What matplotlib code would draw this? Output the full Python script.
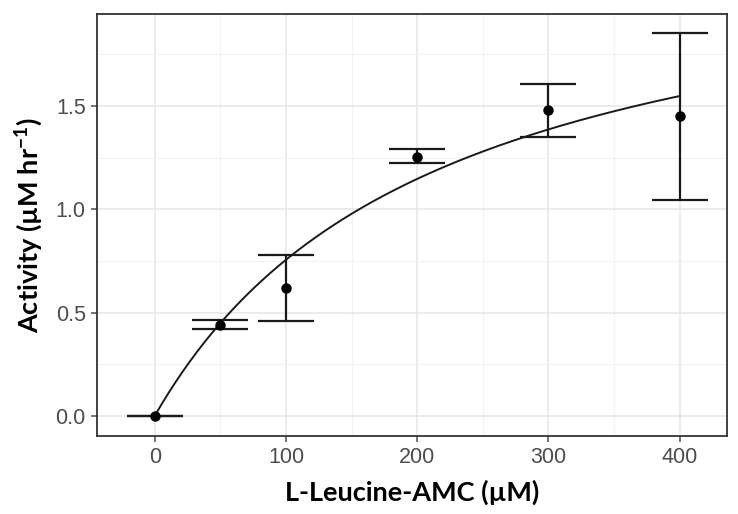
import numpy as np
import matplotlib.pyplot as plt

# Substrate concentrations and measured activity
substrate = [0, 50, 100, 200, 300, 400]
activity = [0.0, 0.44, 0.62, 1.255, 1.478, 1.45]
err_low = [0.0, 0.42, 0.46, 1.224, 1.351, 1.045]
err_high = [0.0, 0.464, 0.78, 1.29, 1.605, 1.855]

# Michaelis-Menten fit parameters
vmax = 2.38
km = 215.0

plt.rcParams['mathtext.default'] = 'regular'

fig = plt.figure(figsize=(7.38, 5.14), dpi=100)
ax = fig.add_axes([0.1314, 0.1518, 0.8536, 0.821])

xs = np.linspace(0, 400, 300)
ax.plot(xs, vmax * xs / (km + xs), color='#1a1a1a', lw=1.4, zorder=3)

act = np.array(activity)
yerr = [act - np.array(err_low), np.array(err_high) - act]
ax.errorbar(substrate, activity, yerr=yerr, fmt='o', color='black', ms=6.5,
            ecolor='#1a1a1a', elinewidth=1.6, capsize=20.5, capthick=1.6, zorder=4)

ax.set_xlim(-44, 436)
ax.set_ylim(-0.097, 1.945)
ax.set_xticks([0, 100, 200, 300, 400])
ax.set_xticks([50, 150, 250, 350], minor=True)
ax.set_yticks([0.0, 0.5, 1.0, 1.5])
ax.set_yticklabels(['0.0', '0.5', '1.0', '1.5'])
ax.set_yticks([0.25, 0.75, 1.25, 1.75], minor=True)

ax.grid(which='major', color='#e6e6e6', lw=1.1)
ax.grid(which='minor', color='#f2f2f2', lw=0.8)
ax.set_axisbelow(True)
for s in ax.spines.values():
    s.set_color('#333333')
    s.set_linewidth(1.3)

ax.tick_params(which='major', length=4, width=1.1, color='#4d4d4d',
               labelcolor='#4d4d4d', labelsize=15.5, pad=4)
ax.tick_params(which='minor', length=0)
for lab in ax.get_xticklabels() + ax.get_yticklabels():
    lab.set_family(['Liberation Sans', 'DejaVu Sans'])

ax.set_xlabel('L-Leucine-AMC (µM)', family=['Lato', 'DejaVu Sans'],
              fontweight='bold', fontsize=19.5, labelpad=8)
ax.set_ylabel('Activity (µM hr$^{-1}$)', family=['Lato', 'DejaVu Sans'],
              fontweight='bold', fontsize=19.5, labelpad=8)

fig.savefig('out.png', dpi=100, facecolor='white')
